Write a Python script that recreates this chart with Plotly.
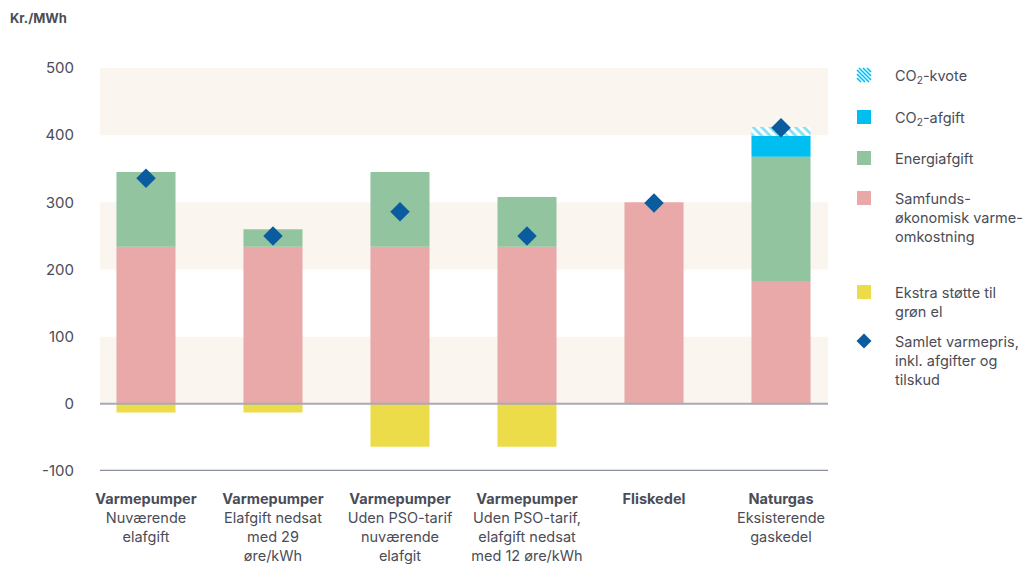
import plotly.graph_objects as go

# Categories (x-axis labels)
categories = [
    "<b>Varmepumper</b><br>Nuværende<br>elafgift",
    "<b>Varmepumper</b><br>Elafgift nedsat<br>med 29<br>øre/kWh",
    "<b>Varmepumper</b><br>Uden PSO-tarif<br>nuværende<br>elafgit",
    "<b>Varmepumper</b><br>Uden PSO-tarif,<br>elafgift nedsat<br>med 12 øre/kWh",
    "<b>Fliskedel</b>",
    "<b>Naturgas</b><br>Eksisterende<br>gaskedel",
]

# Series values, kr./MWh
samfundsokonomisk = [234, 234, 234, 234, 300, 183]
energiafgift = [111, 26, 111, 74, 0, 185]
co2_afgift = [0, 0, 0, 0, 0, 31]
co2_kvote = [0, 0, 0, 0, 0, 13]
ekstra_stotte = [-13, -13, -64, -64, 0, 0]
samlet_varmepris = [336, 250, 286, 250, 299, 411]

y_ticks = [-100, 0, 100, 200, 300, 400, 500]
y_tick_labels = ["-100", "0", "100", "200", "300", "400", "500"]

PINK = "#e8a9a8"
GREEN = "#93c4a0"
CYAN = "#00bff0"
YELLOW = "#ecdc4a"
BLUE = "#0b5c9e"
BAND = "#faf5ee"
TEXT = "#4a4d57"
FONT = "Inter"

W, H = 1029, 564
L, R, T, B = 100, 828, 68, 471  # plot area in pixels

x_pos = list(range(len(categories)))
bw = 0.465

fig = go.Figure()
fig.add_bar(x=x_pos, y=samfundsokonomisk, width=bw, marker_color=PINK, marker_line_width=0)
fig.add_bar(x=x_pos, y=energiafgift, width=bw, marker_color=GREEN, marker_line_width=0)
fig.add_bar(x=x_pos, y=co2_afgift, width=bw, marker_color=CYAN, marker_line_width=0)
fig.add_bar(x=x_pos, y=co2_kvote, width=bw, marker=dict(
    color="white", line_width=0,
    pattern=dict(shape="\\", fgcolor=CYAN, bgcolor="white", size=6, solidity=0.45)))
fig.add_bar(x=x_pos, y=ekstra_stotte, width=bw, marker_color=YELLOW, marker_line_width=0)
fig.add_scatter(x=x_pos, y=samlet_varmepris, mode="markers",
                marker=dict(symbol="diamond", size=15, color=BLUE, line_width=0))

# Alternating background bands
for lo, hi in [(0, 100), (200, 300), (400, 500)]:
    fig.add_shape(type="rect", xref="x domain", yref="y", x0=0, x1=1, y0=lo, y1=hi,
                  fillcolor=BAND, line_width=0, layer="below")
# Zero line and bottom axis line
fig.add_shape(type="line", xref="x domain", yref="y", x0=0, x1=1, y0=0, y1=0,
              line=dict(color="#a9aab3", width=2), layer="above")
fig.add_shape(type="line", xref="x domain", yref="y", x0=0, x1=1, y0=-100, y1=-100,
              line=dict(color="#8b91a0", width=2.5), layer="above")


def px_x(px):
    return (px - L) / (R - L)


def px_y(py):
    return (B - py) / (B - T)


# Unit label
fig.add_annotation(text="<b>Kr./MWh</b>", xref="paper", yref="paper", x=px_x(8), y=px_y(18),
                   xanchor="left", yanchor="middle", showarrow=False,
                   font=dict(family=FONT, size=13, color=TEXT))

# Legend
ix0, ix1 = 857, 871
tx = 893
legend_items = [
    (75, "hatch", "CO<sub>2</sub>-kvote"),
    (117, CYAN, "CO<sub>2</sub>-afgift"),
    (158, GREEN, "Energiafgift"),
    (198, PINK, "Samfunds-<br>økonomisk varme-<br>omkostning"),
    (292, YELLOW, "Ekstra støtte til<br>grøn el"),
    (341, "diamond", "Samlet varmepris,<br>inkl. afgifter og<br>tilskud"),
]
for cy, kind, label in legend_items:
    if kind == "diamond":
        fig.add_shape(type="path", xref="paper", yref="paper", xsizemode="pixel", ysizemode="pixel",
                      xanchor=px_x((ix0 + ix1) / 2), yanchor=px_y(cy),
                      path="M 0 -7.5 L 7.5 0 L 0 7.5 L -7.5 0 Z",
                      fillcolor=BLUE, line_width=0)
    elif kind == "hatch":
        segs = []
        s = 14
        for k in range(-14, 15, 4):
            # line with slope -1 through (k, s) in local coords (x right, y up)
            xa, ya = k, s
            xb, yb = k + s, 0
            if xa < 0:
                ya -= -xa
                xa = 0
            if xb > s:
                yb += xb - s
                xb = s
            if xa < xb:
                segs.append(f"M {xa - 7} {ya - 7} L {xb - 7} {yb - 7}")
        fig.add_shape(type="path", xref="paper", yref="paper", xsizemode="pixel", ysizemode="pixel",
                      xanchor=px_x((ix0 + ix1) / 2), yanchor=px_y(cy),
                      path=" ".join(segs), line=dict(color=CYAN, width=1.6))
    else:
        fig.add_shape(type="rect", xref="paper", yref="paper",
                      x0=px_x(ix0), x1=px_x(ix1), y0=px_y(cy + 7), y1=px_y(cy - 7),
                      fillcolor=kind, line_width=0)
    fig.add_annotation(text=label, xref="paper", yref="paper", x=px_x(tx), y=px_y(cy - 10),
                       xanchor="left", yanchor="top", align="left", showarrow=False,
                       font=dict(family=FONT, size=14.5, color=TEXT))

fig.update_layout(
    width=W, height=H,
    margin=dict(l=L, r=W - R, t=T, b=H - B, autoexpand=False),
    barmode="relative",
    showlegend=False,
    plot_bgcolor="white", paper_bgcolor="white",
    font=dict(family=FONT, size=14.5, color=TEXT),
    xaxis=dict(range=[-0.362, 5.37], tickvals=x_pos, ticktext=categories,
               showgrid=False, zeroline=False, showline=False, automargin=False,
               ticks="outside", ticklen=15, tickcolor="rgba(0,0,0,0)",
               tickfont=dict(family=FONT, size=14.5, color=TEXT)),
    yaxis=dict(range=[-100, 500], tickvals=y_ticks, ticktext=y_tick_labels,
               showgrid=False, zeroline=False, automargin=False,
               showline=False, ticks="outside", ticklen=22, tickcolor="rgba(0,0,0,0)",
               tickfont=dict(family=FONT, size=15, color=TEXT)),
)

fig.write_html("out.html")
